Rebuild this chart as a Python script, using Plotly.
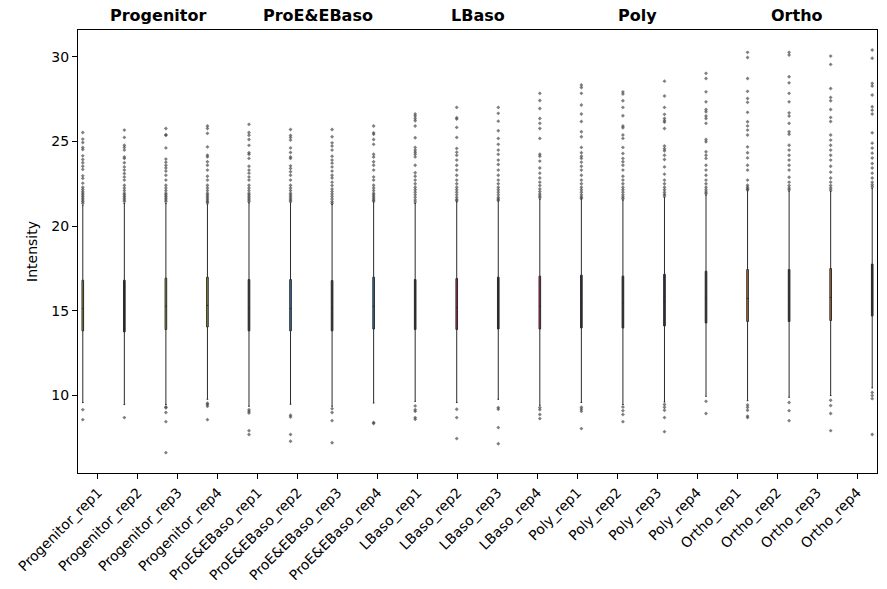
import plotly.graph_objects as go

samples = ["Progenitor_rep1", "Progenitor_rep2", "Progenitor_rep3", "Progenitor_rep4",
           "ProE&EBaso_rep1", "ProE&EBaso_rep2", "ProE&EBaso_rep3", "ProE&EBaso_rep4",
           "LBaso_rep1", "LBaso_rep2", "LBaso_rep3", "LBaso_rep4",
           "Poly_rep1", "Poly_rep2", "Poly_rep3", "Poly_rep4",
           "Ortho_rep1", "Ortho_rep2", "Ortho_rep3", "Ortho_rep4"]
groups = ["Progenitor", "ProE&EBaso", "LBaso", "Poly", "Ortho"]
# box fill as it appears in the reference (very thin boxes: some show only their dark edge)
box_fills = ["#9a9a2e", "#2a2a2a", "#9a9a2e", "#9a9a2e",
             "#2a2a2a", "#2f78b5", "#2a2a2a", "#2f78b5",
             "#2a2a2a", "#c8244f", "#2a2a2a", "#c8244f",
             "#2b2b50", "#2a2a2a", "#2b2b50", "#2a2a2a",
             "#c8782a", "#2a2a2a", "#c8782a", "#2a2a2a"]

q1_vals = [13.82, 13.76, 13.90, 14.05, 13.82, 13.82, 13.82, 13.93, 13.90, 13.90,
           13.93, 13.93, 13.99, 13.99, 14.11, 14.29, 14.37, 14.37, 14.43, 14.70]
median_vals = [15.14, 15.10, 15.27, 15.32, 15.15, 15.14, 15.15, 15.27, 15.20, 15.20,
               15.30, 15.29, 15.45, 15.45, 15.55, 15.75, 15.73, 15.75, 15.79, 16.05]
q3_vals = [16.81, 16.81, 16.93, 16.99, 16.85, 16.85, 16.79, 16.99, 16.85, 16.91,
           16.99, 17.05, 17.11, 17.05, 17.16, 17.34, 17.44, 17.44, 17.50, 17.76]
lower_whisker = [9.59, 9.47, 9.47, 9.78, 9.37, 9.49, 9.37, 9.56, 9.66, 9.59,
                 9.78, 9.43, 9.59, 9.47, 9.62, 9.96, 9.70, 9.90, 10.00, 10.45]
upper_whisker = [21.24, 21.34, 21.34, 21.30, 21.38, 21.40, 21.28, 21.42, 21.34, 21.44,
                 21.48, 21.59, 21.59, 21.54, 21.69, 21.83, 22.09, 22.07, 22.05, 22.23]
outliers = [
    [25.53, 25.14, 24.94, 24.65, 24.53, 24.15, 23.94, 23.74, 23.54, 23.35, 22.97, 22.82, 22.54, 22.30,
     22.17, 22.05, 21.95, 21.85, 21.75, 21.65, 21.55, 21.45, 21.35, 9.17, 8.58],
    [25.67, 25.24, 24.78, 24.65, 24.49, 24.09, 24.00, 23.74, 23.50, 23.31, 23.11, 22.91, 22.72, 22.42,
     22.25, 22.10, 21.95, 21.85, 21.75, 21.65, 21.55, 21.45, 8.70],
    [25.77, 25.40, 25.36, 24.62, 23.96, 23.78, 23.60, 23.43, 23.25, 23.01, 22.72, 22.42, 22.25, 22.10,
     21.95, 21.85, 21.75, 21.65, 21.55, 21.45, 9.33, 9.28, 9.00, 8.46, 6.63],
    [25.91, 25.77, 25.48, 24.68, 24.19, 24.09, 23.80, 23.60, 23.31, 22.95, 22.72, 22.42, 22.25, 22.10,
     21.95, 21.85, 21.75, 21.65, 21.55, 21.45, 21.38, 9.55, 9.47, 9.37, 8.58],
    [26.01, 25.53, 25.37, 25.12, 24.77, 24.33, 24.25, 24.00, 23.54, 23.31, 23.13, 22.91, 22.72, 22.42,
     22.25, 22.10, 21.95, 21.85, 21.75, 21.65, 21.55, 21.45, 9.17, 9.07, 8.97, 7.93, 7.70],
    [25.71, 25.36, 25.24, 25.08, 24.62, 24.35, 24.09, 24.00, 23.56, 23.41, 23.21, 23.01, 22.72, 22.42,
     22.25, 22.10, 21.95, 21.85, 21.75, 21.65, 21.55, 21.47, 8.84, 8.74, 7.70, 7.30],
    [25.71, 25.28, 24.92, 24.73, 24.49, 24.13, 23.90, 23.72, 23.50, 23.25, 23.01, 22.84, 22.60, 22.40,
     22.20, 22.05, 21.90, 21.75, 21.60, 21.45, 21.35, 9.23, 9.00, 8.52, 7.22],
    [25.91, 25.51, 25.43, 25.12, 24.83, 24.25, 24.08, 23.80, 23.60, 23.31, 22.91, 22.72, 22.42, 22.25,
     22.10, 21.95, 21.85, 21.75, 21.65, 21.55, 21.48, 8.41, 8.35],
    [26.62, 26.50, 26.36, 26.22, 25.91, 25.22, 24.65, 24.49, 24.37, 24.25, 24.09, 23.60, 23.15, 22.95,
     22.72, 22.50, 22.30, 22.15, 22.00, 21.85, 21.70, 21.55, 21.42, 9.39, 9.16, 9.07, 8.70, 8.60],
    [27.01, 26.40, 26.32, 25.83, 25.24, 24.59, 24.37, 24.19, 23.90, 23.60, 23.31, 23.01, 22.72, 22.50,
     22.30, 22.15, 22.00, 21.85, 21.70, 21.58, 21.50, 9.19, 8.70, 7.46],
    [27.01, 26.66, 26.20, 25.63, 25.18, 24.83, 24.49, 24.24, 23.90, 23.64, 23.31, 23.01, 22.72, 22.50,
     22.30, 22.15, 22.00, 21.85, 21.70, 21.60, 21.53, 9.29, 9.19, 8.11, 7.16],
    [27.84, 27.42, 26.95, 26.36, 26.07, 25.77, 25.18, 24.25, 24.13, 23.84, 23.43, 23.13, 22.84, 22.60,
     22.40, 22.20, 22.05, 21.90, 21.78, 21.68, 9.30, 9.17, 8.88, 8.64],
    [28.33, 28.19, 27.84, 27.15, 26.62, 26.18, 25.57, 25.28, 24.65, 24.33, 24.13, 24.00, 23.78, 23.54,
     23.31, 23.01, 22.72, 22.50, 22.30, 22.15, 22.00, 21.85, 21.72, 21.65, 9.31, 9.19, 9.07, 8.05],
    [27.93, 27.80, 27.40, 27.01, 26.52, 25.91, 25.81, 25.38, 25.18, 24.65, 24.29, 24.00, 23.80, 23.60,
     23.31, 22.95, 22.72, 22.50, 22.30, 22.15, 22.00, 21.85, 21.72, 21.62, 9.33, 9.11, 8.88, 8.46],
    [28.56, 27.68, 27.01, 26.60, 26.36, 26.22, 26.14, 25.77, 24.73, 24.57, 24.45, 24.19, 23.94, 23.50,
     23.07, 22.72, 22.50, 22.30, 22.15, 22.00, 21.88, 21.78, 9.47, 9.31, 9.13, 8.70, 7.87],
    [29.02, 28.72, 27.93, 27.34, 26.89, 26.75, 26.50, 26.36, 26.07, 25.12, 24.98, 24.39, 24.19, 24.00,
     23.60, 23.31, 23.01, 22.72, 22.50, 22.30, 22.15, 22.02, 21.92, 9.66, 8.94],
    [30.26, 29.96, 28.72, 27.96, 27.54, 27.31, 26.72, 26.16, 25.92, 25.67, 25.38, 24.68, 24.33, 24.03,
     23.60, 23.31, 22.72, 22.42, 22.30, 22.20, 22.15, 9.45, 9.31, 9.13, 8.79, 8.70],
    [30.26, 30.10, 28.82, 28.46, 27.84, 27.34, 26.69, 26.50, 26.07, 25.57, 25.43, 24.78, 24.49, 24.19,
     23.90, 23.60, 23.31, 22.89, 22.60, 22.40, 22.25, 22.15, 9.59, 9.11, 8.52],
    [30.04, 29.55, 28.13, 27.60, 27.40, 26.89, 26.42, 26.18, 25.38, 25.08, 24.78, 24.49, 24.19, 23.90,
     23.54, 23.19, 22.84, 22.60, 22.40, 22.25, 22.13, 9.72, 9.41, 8.94, 7.93],
    [30.40, 29.91, 28.43, 28.27, 27.74, 27.05, 26.85, 26.62, 25.51, 24.90, 24.61, 24.31, 24.02, 23.70,
     23.43, 23.13, 22.84, 22.60, 22.45, 22.33, 10.18, 10.00, 9.82, 7.70],
]

FONT = "DejaVu Sans"
fig = go.Figure()
for i, s in enumerate(samples):
    fig.add_trace(go.Box(
        x=[s], y=[outliers[i]],
        q1=[q1_vals[i]], median=[median_vals[i]], q3=[q3_vals[i]],
        lowerfence=[lower_whisker[i]], upperfence=[upper_whisker[i]],
        name=s, boxpoints="outliers", jitter=0, pointpos=0,
        fillcolor=box_fills[i],
        line=dict(color="#2a2a2a", width=1),
        whiskerwidth=1,
        marker=dict(symbol="diamond", size=3, color="rgba(60,60,60,0.65)",
                    line=dict(width=0)),
        showlegend=False, hoverinfo="skip",
    ))

# group labels above plot, centred over each group's categories
for g, name in enumerate(groups):
    idx = [i for i in range(len(samples)) if i // 4 == g]
    fig.add_annotation(x=sum(idx) / len(idx), y=1.0, xref="x", yref="paper",
                       yanchor="bottom", yshift=3, text="<b>%s</b>" % name,
                       showarrow=False, font=dict(family=FONT, size=16, color="black"))

fig.update_layout(
    width=887, height=589,
    margin=dict(l=78, r=10, t=30, b=116),
    paper_bgcolor="white", plot_bgcolor="white",
    boxmode="group", boxgap=0.2, boxgroupgap=0.0,
    font=dict(family=FONT, size=14, color="black"),
)
fig.update_xaxes(
    type="category", categoryorder="array", categoryarray=samples,
    range=[-0.5, len(samples) - 0.5], automargin=False,
    tickangle=-45, ticks="outside", ticklen=5, tickcolor="black",
    showline=True, linecolor="black", linewidth=1, mirror=True,
    showgrid=False, zeroline=False, tickfont=dict(family=FONT, size=14),
)
fig.update_yaxes(
    range=[5.43, 31.58], tickvals=[10, 15, 20, 25, 30], automargin=False,
    ticks="outside", ticklen=5, tickcolor="black",
    showline=True, linecolor="black", linewidth=1, mirror=True,
    showgrid=False, zeroline=False, tickfont=dict(family=FONT, size=14),
    title=dict(text="Intensity", font=dict(family=FONT, size=14), standoff=10),
)
fig.write_html("out.html", config={"displayModeBar": False},
               post_script="document.body.style.margin='0';document.body.style.padding='0';")
